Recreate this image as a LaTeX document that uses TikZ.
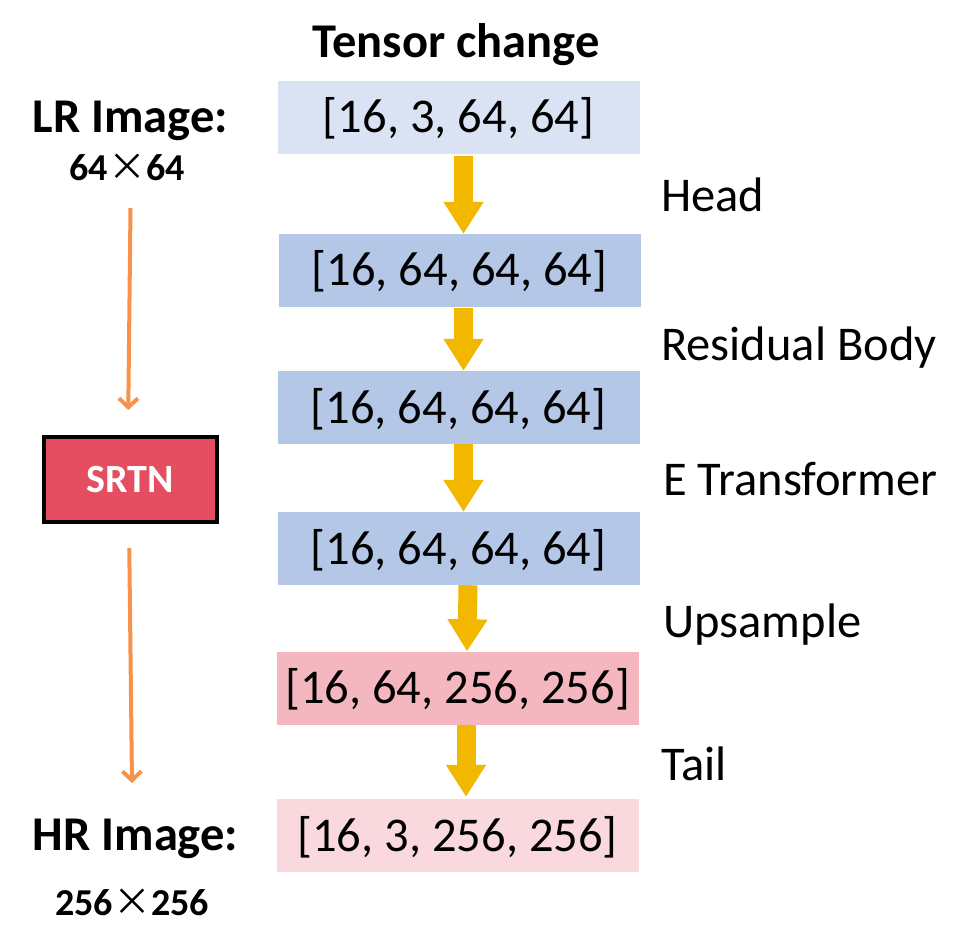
\documentclass[tikz,border=0pt]{standalone}
\usepackage{fontspec}
\setmainfont{Carlito}
\newfontfamily\cjk{Noto Sans CJK SC}
\usetikzlibrary{arrows.meta}
\definecolor{lblue}{HTML}{DAE3F3}
\definecolor{mblue}{HTML}{B4C7E7}
\definecolor{mpink}{HTML}{F4B6BF}
\definecolor{lpink}{HTML}{F9D9DE}
\definecolor{gold}{HTML}{F2B800}
\definecolor{srtnred}{HTML}{E44E60}
\definecolor{orng}{HTML}{F8924A}
\newcommand{\bigfont}{\fontsize{48.5}{58}\selectfont}
\begin{document}
\begin{tikzpicture}[x=1pt,y=-1pt,
  tensor/.style={minimum width=362pt, minimum height=73pt, inner sep=0pt,
    text height=31pt, text depth=0pt, font=\bigfont},
  lbl/.style={anchor=base west, inner sep=0pt, font=\bigfont},
  fatarrow/.style={draw=gold, line width=19pt, -{Triangle[width=38pt,length=32pt]}},
  thinarrow/.style={draw=orng, line width=4pt, -{Straight Barb[length=9pt,width=19pt]}},
  heading/.style={anchor=base, inner sep=0pt, font=\bigfont\bfseries},
  sizetext/.style={anchor=base, inner sep=0pt, font=\fontsize{38}{44}\selectfont\bfseries}
]
\useasboundingbox (0,0) rectangle (973,949);
\fill[white] (0,0) rectangle (973,949);

% title
\node[heading] (title) at (456,58) {Tensor change};

% tensor boxes
\node[tensor, fill=lblue] (b1) at (458.5,117.5) {[16, 3, 64, 64]};
\node[tensor, fill=mblue] (b2) at (459.5,270.5) {[16, 64, 64, 64]};
\node[tensor, fill=mblue] (b3) at (458.5,407.5) {[16, 64, 64, 64]};
\node[tensor, fill=mblue] (b4) at (458.5,548.5) {[16, 64, 64, 64]};
\node[tensor, fill=mpink] (b5) at (457.5,688) {[16, 64, 256, 256]};
\node[tensor, fill=lpink] (b6) at (457.5,835.5) {[16, 3, 256, 256]};

% yellow arrows
\draw[fatarrow, shorten <=2pt] ([xshift=5pt]b1.south) -- ([xshift=4pt]b2.north);
\draw[fatarrow, shorten <=1pt] ([xshift=4pt]b2.south) -- ([xshift=5pt]b3.north);
\draw[fatarrow] ([xshift=5pt]b3.south) -- ([xshift=5pt]b4.north);
\draw[fatarrow] ([xshift=9.5pt]b4.south) -- ([xshift=9.5pt]b5.north);
\draw[fatarrow] ([xshift=8.5pt]b5.south) -- ([xshift=8.5pt,yshift=2pt]b6.north);

% step labels
\node[lbl] (head) at (661,212) {Head};
\node[lbl] (body) at (661,360) {Residual Body};
\node[lbl] (etr) at (663,495) {E Transformer};
\node[lbl] (up) at (663,637) {Upsample};
\node[lbl] (tail) at (661,780) {Tail};

% left column
\node[heading] (lr) at (130.5,133) {LR Image:};
\node[sizetext] (lrsize) at (127,181) {64{\mdseries\cjk ×}64};
\node[draw=black, line width=4pt, fill=srtnred, minimum width=173pt, minimum height=85pt,
      inner sep=0pt, text=white, text height=25pt, text depth=0pt,
      font=\fontsize{40}{46}\selectfont\bfseries] (srtn) at (130.5,479.5) {SRTN};
\node[heading] (hr) at (135.5,850) {HR Image:};
\node[sizetext] (hrsize) at (132,915) {256{\mdseries\cjk ×}256};

\coordinate (a1s) at (130.5,208);
\coordinate (a2e) at (132,783);
\draw[thinarrow, shorten >=25pt] (a1s) -- (srtn.north -| 128,0);
\draw[thinarrow, shorten <=24pt] (srtn.south -| 129,0) -- (a2e);
\end{tikzpicture}
\end{document}
